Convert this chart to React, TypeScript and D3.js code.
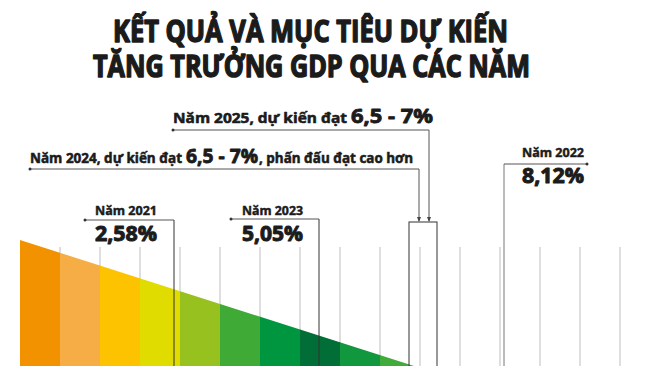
import React from 'react';
import * as d3 from 'd3';

// chart data
const title = ['KẾT QUẢ VÀ MỤC TIÊU DỰ KIẾN', 'TĂNG TRƯỞNG GDP QUA CÁC NĂM'];
const bandColors = ['#F39200', '#F6AD45', '#FDC300', '#E1DC00', '#96C11F', '#40AA36', '#009640', '#006E36', '#11973E', '#40AB38'];
const gridSlots = [1, 2, 3, 4, 5, 6, 7, 8, 9, 10, 11, 12, 13, 14, 15];
const resultYears = ['Năm 2021', 'Năm 2023', 'Năm 2022'];
const resultValues = ['2,58%', '5,05%', '8,12%'];
const targetLabels = ['Năm 2024, dự kiến đạt', 'Năm 2025, dự kiến đạt'];
const targetValues = ['6,5 - 7%', '6,5 - 7%'];
const targetTails = [', phấn đấu đạt cao hơn', ''];

// layout (slot units on the x scale)
const W = 650;
const H = 366;
const FONT = "'Open Sans', 'Noto Sans', sans-serif";
const INK = '#1b1b1b';

const x = d3.scaleLinear().domain([0, 15]).range([20, 620]);
const tri = d3.scaleLinear().domain([0, 1]).range([H, 240]);
const triTip = 9.85;

// result callouts: line slot, text span, line y, dot x, baselines
const resultLayout = [
  { slot: 3.85, textL: 95, textR: 157, lineY: 220, dotX: 85, labelY: 215, valueY: 241 },
  { slot: 7.475, textL: 242, textR: 303, lineY: 219, dotX: 231, labelY: 215, valueY: 241 },
  { slot: 12.1, textL: 522, textR: 584, lineY: 164, dotX: 587, labelY: 157, valueY: 183 },
];

// target callouts: text spans and the leader line
const targetLayout = [
  { x0: 30, x1: 182, x2: 186, x3: 258, x4: 259, x5: 413, y: 163, lineY: 169, arrowSlot: 9.975 },
  { x0: 173, x1: 347, x2: 351, x3: 433, x4: 433, x5: 433, y: 123, lineY: 130, arrowSlot: 10.225 },
];
const boxSlots = [9.725, 10.425];
const boxTop = 222;

const Arrow = ({ cx, cy }: { cx: number; cy: number }) => (
  <path d={`M${cx - 2},${cy - 5} L${cx + 2},${cy - 5} L${cx},${cy} Z`} fill="#444" />
);

// bold text squeezed to the width it takes in the reference
const Label = ({ x0, x1, y, size, heavy = 0.3, children }: any) => (
  <text
    x={x0}
    y={y}
    textLength={x1 - x0}
    lengthAdjust="spacingAndGlyphs"
    fontFamily={FONT}
    fontWeight={700}
    fontSize={size}
    fill={INK}
    stroke={INK}
    strokeWidth={heavy}
    strokeLinejoin="round"
  >
    {children}
  </text>
);

export default function App() {
  const triPoints = [
    [x(0), tri(1)],
    [x(triTip), tri(0)],
    [x(0), tri(0)],
  ];

  return (
    <svg
      width={W}
      height={H}
      viewBox={`0 0 ${W} ${H}`}
      style={{ position: 'fixed', left: 0, top: 0, background: '#fff' }}
    >
      <defs>
        <clipPath id="tri">
          <polygon points={triPoints.map((p) => p.join(',')).join(' ')} />
        </clipPath>
      </defs>

      {/* title */}
      <Label x0={113} x1={508} y={42} size={30} heavy={1.5}>{title[0]}</Label>
      <Label x0={93} x1={530} y={77} size={30} heavy={1.5}>{title[1]}</Label>

      {/* grid lines */}
      {gridSlots.map((s) => (
        <line key={s} x1={x(s)} x2={x(s)} y1={247} y2={H} stroke="#bdbdbd" strokeWidth={1} />
      ))}

      {/* colored bands under the triangle */}
      <g clipPath="url(#tri)">
        {bandColors.map((c, i) => (
          <rect key={i} x={x(i)} y={tri(1)} width={x(i + 1) - x(i) + 0.5} height={H - tri(1)} fill={c} />
        ))}
      </g>

      {/* target box for 2024/2025 */}
      <rect
        x={x(boxSlots[0])}
        y={boxTop}
        width={x(boxSlots[1]) - x(boxSlots[0])}
        height={H}
        fill="none"
        stroke="#333"
        strokeWidth={1}
      />

      {/* result callouts */}
      {resultYears.map((yr, i) => {
        const L = resultLayout[i];
        const lx = x(L.slot);
        return (
          <g key={yr}>
            <line x1={lx} x2={lx} y1={L.lineY} y2={H} stroke={i === 2 ? '#777' : '#333'} strokeWidth={1} />
            <line x1={Math.min(lx, L.dotX)} x2={Math.max(lx, L.dotX)} y1={L.lineY} y2={L.lineY} stroke="#555" strokeWidth={1} />
            <circle cx={L.dotX} cy={L.lineY} r={1.5} fill="#333" />
            <Label x0={L.textL} x1={L.textR} y={L.labelY} size={12} heavy={0.45}>{yr}</Label>
            <Label x0={L.textL} x1={L.textR} y={L.valueY} size={21} heavy={1}>{resultValues[i]}</Label>
          </g>
        );
      })}

      {/* target callouts */}
      {targetLabels.map((lbl, i) => {
        const L = targetLayout[i];
        const ax = x(L.arrowSlot);
        return (
          <g key={lbl}>
            <Label x0={L.x0} x1={L.x1} y={L.y} size={14} heavy={0.55}>{lbl}</Label>
            <Label x0={L.x2} x1={L.x3} y={L.y} size={19} heavy={0.8}>{targetValues[i]}</Label>
            {targetTails[i] && (
              <Label x0={L.x4} x1={L.x5} y={L.y} size={14} heavy={0.55}>{targetTails[i]}</Label>
            )}
            <polyline
              points={`${L.x0},${L.lineY} ${ax},${L.lineY} ${ax},${boxTop - 1}`}
              fill="none"
              stroke="#555"
              strokeWidth={1}
            />
            <circle cx={L.x0} cy={L.lineY} r={1.5} fill="#333" />
            <Arrow cx={ax} cy={boxTop} />
          </g>
        );
      })}
    </svg>
  );
}
